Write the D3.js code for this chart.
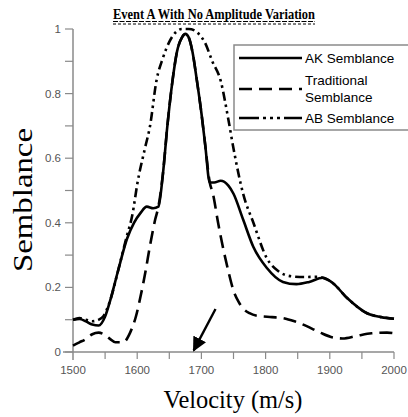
<!DOCTYPE html>
<html>
<head>
<meta charset="utf-8">
<script src="https://cdn.jsdelivr.net/npm/d3@7"></script>
<style>
body{margin:0;background:#fff;}
</style>
</head>
<body>
<svg id="chart" width="408" height="417"></svg>
<script>
// values
var akVel  = [1500,1510,1520,1530,1540,1550,1558,1570,1584,1595,1605,1615,1625,1633,1640,1647,1655,1662,1670,1675,1680,1686,1693,1700,1706,1713,1720,1730,1742,1750,1765,1781,1802,1827,1848,1868,1889,1905,1927,1958,1980,2000];
var akVal  = [0.100,0.102,0.095,0.085,0.082,0.110,0.160,0.250,0.350,0.400,0.430,0.450,0.445,0.450,0.550,0.700,0.840,0.930,0.975,0.985,0.975,0.930,0.840,0.740,0.640,0.525,0.525,0.530,0.515,0.490,0.410,0.325,0.260,0.217,0.210,0.217,0.230,0.213,0.167,0.120,0.108,0.103];

var tradVel = [1500,1510,1520,1530,1540,1548,1558,1566,1578,1589,1598,1605,1613,1620,1628,1633,1640,1647,1655,1662,1670,1675,1680,1686,1693,1700,1706,1713,1718,1726,1734,1742,1750,1758,1765,1775,1787,1810,1827,1845,1864,1885,1905,1920,1942,1965,1989,2000];
var tradVal = [0.020,0.030,0.040,0.055,0.060,0.055,0.040,0.030,0.030,0.060,0.110,0.170,0.250,0.330,0.410,0.450,0.550,0.700,0.840,0.930,0.975,0.985,0.975,0.930,0.840,0.740,0.640,0.525,0.490,0.400,0.320,0.250,0.190,0.155,0.135,0.120,0.112,0.108,0.105,0.095,0.080,0.060,0.045,0.042,0.050,0.058,0.060,0.058];

var abVel = [1500,1510,1520,1530,1540,1547,1558,1570,1584,1592,1601,1612,1620,1630,1640,1650,1660,1670,1680,1690,1698,1705,1717,1730,1742,1750,1765,1781,1802,1820,1838,1860,1880,1889,1905,1927,1958,1980,2000];
var abVal = [0.100,0.105,0.100,0.095,0.100,0.110,0.160,0.250,0.360,0.420,0.530,0.630,0.700,0.840,0.910,0.960,0.990,1.000,1.000,0.995,0.980,0.960,0.900,0.840,0.720,0.630,0.490,0.400,0.290,0.250,0.235,0.232,0.233,0.230,0.213,0.167,0.120,0.108,0.103];

var xTicks = [1500,1600,1700,1800,1900,2000];
var yTicks = [0,0.2,0.4,0.6,0.8,1];
var seriesNames = ['AK Semblance','Traditional','AB Semblance'];

var svg = d3.select('#chart');
var margin = {left:73,right:14,top:29,bottom:65};
var width = +svg.attr('width'), height = +svg.attr('height');

var xscale = d3.scaleLinear().domain([1500,2000]).range([margin.left, width-margin.right]);
var yscale = d3.scaleLinear().domain([0,1]).range([height-margin.bottom, margin.top]);

var axisColor = '#8a8a8a';
var labelColor = '#555';

// axes, excel style
var ax = svg.append('g');
ax.append('line').attr('x1',xscale(1500)).attr('x2',xscale(1500))
	.attr('y1',yscale(1)).attr('y2',yscale(0)+8)
	.attr('stroke',axisColor).attr('stroke-width',1.5);
ax.append('line').attr('x1',xscale(1500)-10).attr('x2',xscale(2000))
	.attr('y1',yscale(0)).attr('y2',yscale(0))
	.attr('stroke',axisColor).attr('stroke-width',1.5);

d3.range(0,1.0001,0.1).forEach(v =>{
	ax.append('line').attr('x1',xscale(1500)-8).attr('x2',xscale(1500))
		.attr('y1',yscale(v)).attr('y2',yscale(v))
		.attr('stroke',axisColor).attr('stroke-width',1.2);
});
d3.range(1550,2000.1,50).forEach(v =>{
	ax.append('line').attr('x1',xscale(v)).attr('x2',xscale(v))
		.attr('y1',yscale(0)).attr('y2',yscale(0)+7)
		.attr('stroke',axisColor).attr('stroke-width',1.2);
});

ax.selectAll('text.yt').data(yTicks).enter().append('text')
	.attr('x',xscale(1500)-12).attr('y',d => yscale(d)+4)
	.attr('text-anchor','end')
	.style('font-family','Liberation Sans, Arial, sans-serif').style('font-size','11.5px')
	.attr('fill',labelColor).text(d => d);

ax.selectAll('text.xt').data(xTicks).enter().append('text')
	.attr('x',d => xscale(d)).attr('y',yscale(0)+22)
	.attr('text-anchor','middle')
	.style('font-family','Liberation Sans, Arial, sans-serif').style('font-size','11.5px')
	.attr('fill',labelColor).text(d => d);

// axis titles
svg.append('text').attr('x',233).attr('y',408).attr('text-anchor','middle')
	.style('font-family','Liberation Serif, Times New Roman, serif').style('font-size','26px')
	.attr('textLength',139).attr('lengthAdjust','spacingAndGlyphs')
	.text('Velocity (m/s)');
svg.append('text').attr('transform','translate(32,200) rotate(-90)').attr('text-anchor','middle')
	.style('font-family','Liberation Serif, Times New Roman, serif').style('font-size','28px')
	.attr('textLength',144).attr('lengthAdjust','spacingAndGlyphs')
	.text('Semblance');

// title with dashed double underline
svg.append('text').attr('x',214).attr('y',19).attr('text-anchor','middle')
	.style('font-family','Liberation Serif, Times New Roman, serif').style('font-size','15px')
	.style('font-weight','bold')
	.attr('textLength',202).attr('lengthAdjust','spacingAndGlyphs')
	.text('Event A With No Amplitude Variation');
svg.append('line').attr('x1',113).attr('x2',315).attr('y1',21.5).attr('y2',21.5)
	.attr('stroke','#000').attr('stroke-width',1.2).attr('stroke-dasharray','5,1.5');
svg.append('line').attr('x1',113).attr('x2',315).attr('y1',24).attr('y2',24)
	.attr('stroke','#000').attr('stroke-width',1).attr('stroke-dasharray','3,2');

// curves
var line = d3.line().x(d => xscale(d[0])).y(d => yscale(d[1])).curve(d3.curveMonotoneX);
var styles = [
	{vel:akVel, val:akVal, dash:null},
	{vel:tradVel, val:tradVal, dash:'13,7'},
	{vel:abVel, val:abVal, dash:'9,4,2.5,4,2.5,4'}
];
var plot = svg.append('g');
styles.forEach(s =>{
	plot.append('path').datum(s.vel.map((v,i) => [v, s.val[i]]))
		.attr('d',line).attr('fill','none').attr('stroke','#000')
		.attr('stroke-width',2.6).attr('stroke-dasharray',s.dash);
});

// arrow pointing at true velocity
var defs = svg.append('defs');
defs.append('marker').attr('id','ah').attr('viewBox','0 0 10 10')
	.attr('refX',9).attr('refY',5).attr('markerWidth',6).attr('markerHeight',6)
	.attr('orient','auto').append('path').attr('d','M0,0L10,5L0,10z').attr('fill','#000');
svg.append('line').attr('x1',xscale(1722)).attr('y1',yscale(0.133))
	.attr('x2',xscale(1688)).attr('y2',yscale(0.005))
	.attr('stroke','#000').attr('stroke-width',2.4).attr('marker-end','url(#ah)');

// legend
var lg = svg.append('g');
lg.append('rect').attr('x',234).attr('y',45).attr('width',190).attr('height',85)
	.attr('fill','#fff').attr('stroke','#8a8a8a').attr('stroke-width',1.5);
var lgLines = [{y:58, dash:null},{y:89, dash:'13,7'},{y:118, dash:'20,4,3,4,3,4,3,4'}];
lgLines.forEach(l =>{
	lg.append('line').attr('x1',239).attr('x2',302).attr('y1',l.y).attr('y2',l.y)
		.attr('stroke','#000').attr('stroke-width',2.6).attr('stroke-dasharray',l.dash);
});
var lgText = [{t:seriesNames[0],y:63},{t:seriesNames[1],y:85},{t:'Semblance',y:102},{t:seriesNames[2],y:123}];
lgText.forEach(d =>{
	lg.append('text').attr('x',305).attr('y',d.y)
		.style('font-family','Liberation Sans, Arial, sans-serif').style('font-size','13.5px')
		.attr('fill','#000').text(d.t);
});
</script>
</body>
</html>
